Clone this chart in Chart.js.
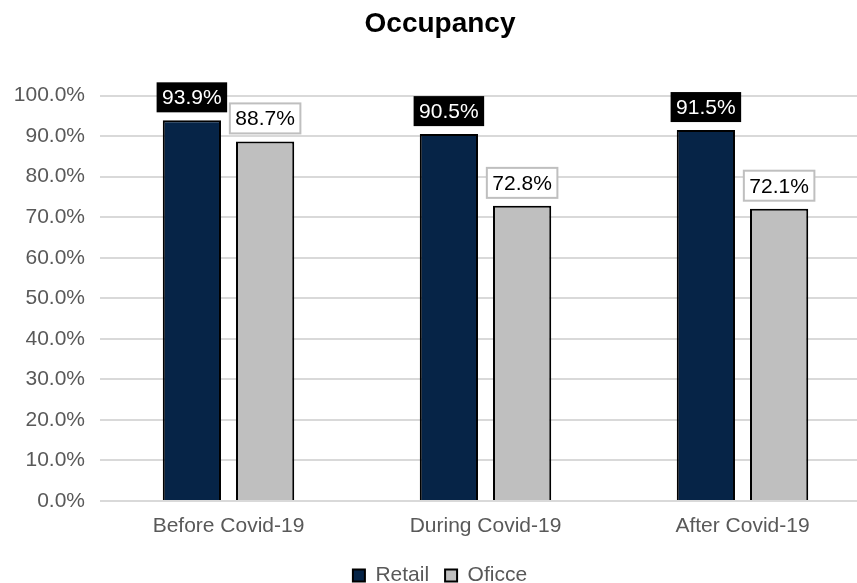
<!DOCTYPE html>
<html>
<head>
<meta charset="utf-8">
<script src="https://cdn.jsdelivr.net/npm/chart.js@4.4.1/dist/chart.umd.min.js"></script>
<style>
  html, body { margin: 0; padding: 0; background: #fff; overflow: hidden; }
  #wrap { width: 883px; height: 596px; }
</style>
</head>
<body>
<div id="wrap"><canvas id="occupancyChart"></canvas></div>
<script>
const categories = ['Before Covid-19', 'During Covid-19', 'After Covid-19'];
const retailValues = [93.9, 90.5, 91.5];
const officeValues = [88.7, 72.8, 72.1];
const seriesNames = ['Retail', 'Oficce'];

document.addEventListener('DOMContentLoaded', () => {
    Chart.defaults.font.family = '"Liberation Sans", Arial, sans-serif';
    Chart.defaults.color = '#595959';

    // boxed value labels above each bar
    const valueLabels = {
        id: 'valueLabels',
        afterDatasetsDraw(chart) {
            const ctx = chart.ctx;
            ctx.save();
            ctx.font = '21px "Liberation Sans", Arial, sans-serif';
            ctx.textAlign = 'center';
            ctx.textBaseline = 'middle';
            chart.data.datasets.forEach((ds, i) => {
                const meta = chart.getDatasetMeta(i);
                meta.data.forEach((bar, j) => {
                    const text = ds.data[j].toFixed(1) + '%';
                    const w = ctx.measureText(text).width + 11;
                    const h = 30;
                    const x = bar.x - w / 2;
                    const y = bar.y - 8 - h;
                    if (i === 0) {
                        ctx.fillStyle = '#000';
                        ctx.fillRect(x, y, w, h);
                        ctx.fillStyle = '#fff';
                    } else {
                        ctx.fillStyle = '#fff';
                        ctx.fillRect(x, y, w, h);
                        ctx.strokeStyle = '#bfbfbf';
                        ctx.lineWidth = 2;
                        ctx.strokeRect(x, y, w, h);
                        ctx.fillStyle = '#000';
                    }
                    ctx.fillText(text, bar.x, y + h / 2 + 1);
                });
            });
            ctx.restore();
        }
    };

    const ctx = document.getElementById('occupancyChart').getContext('2d');
    const occupancyChart = new Chart(ctx, {
        type: 'bar',
        data: {
            labels: categories,
            datasets: [{
                label: seriesNames[0],
                data: retailValues,
                backgroundColor: '#062447',
                borderColor: '#000',
                borderWidth: 2
            }, {
                label: seriesNames[1],
                data: officeValues,
                backgroundColor: '#bfbfbf',
                borderColor: '#000',
                borderWidth: 2
            }]
        },
        options: {
            responsive: true,
            maintainAspectRatio: false,
            animation: false,
            categoryPercentage: 0.57,
            barPercentage: 0.795,
            layout: { padding: { left: 9, right: 12, top: 0, bottom: 0 } },
            plugins: {
                title: {
                    display: true,
                    text: 'Occupancy',
                    color: '#000',
                    font: { size: 28, weight: 'bold' },
                    padding: { top: 7, bottom: 55 }
                },
                legend: {
                    position: 'bottom',
                    labels: {
                        boxWidth: 12,
                        boxHeight: 12,
                        font: { size: 21 },
                        color: '#595959',
                        padding: 16
                    }
                },
                tooltip: { enabled: false }
            },
            scales: {
                x: {
                    grid: { display: false },
                    border: { display: false },
                    ticks: { font: { size: 21 }, color: '#595959', padding: 5 },
                    afterFit: scale => { scale.height = 48; }
                },
                y: {
                    min: 0,
                    max: 100,
                    ticks: {
                        stepSize: 10,
                        font: { size: 21 },
                        color: '#595959',
                        padding: 15,
                        callback: v => v.toFixed(1) + '%'
                    },
                    grid: { color: '#d9d9d9', lineWidth: 2, drawTicks: false },
                    border: { display: false },
                    afterFit: scale => { scale.width = 91; }
                }
            }
        },
        plugins: [valueLabels]
    });
});
</script>
</body>
</html>
